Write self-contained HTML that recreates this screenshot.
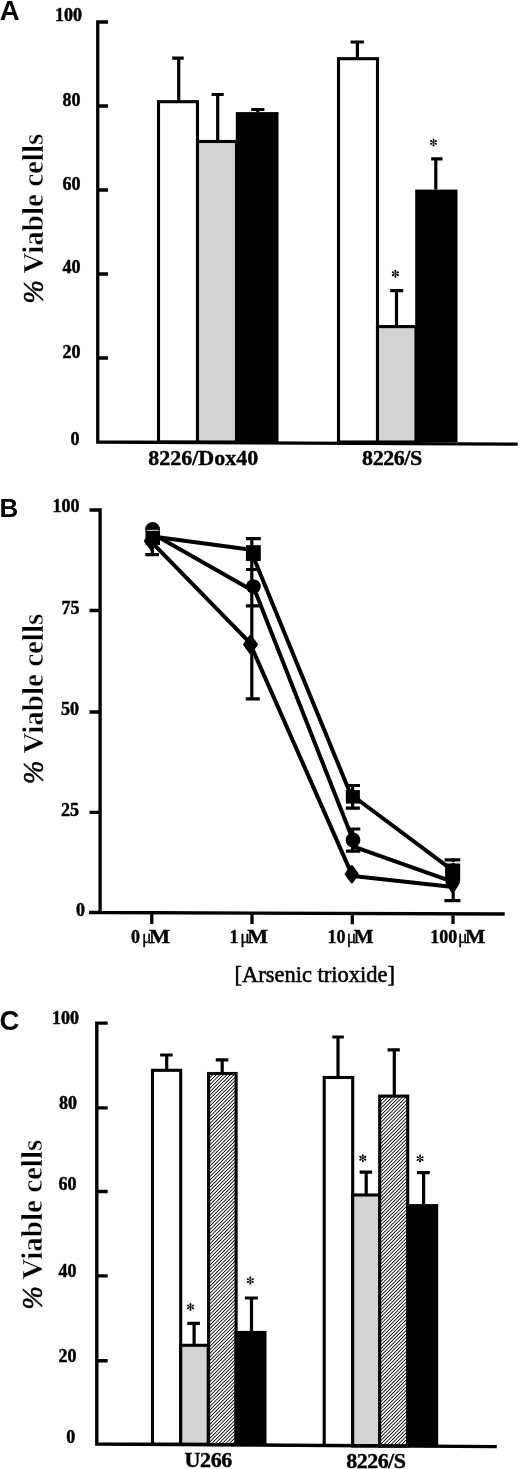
<!DOCTYPE html>
<html><head><meta charset="utf-8"><style>
html,body{margin:0;padding:0;background:#fff;}
svg{display:block;will-change:transform;filter:blur(0.45px);}
.s{font-family:"Liberation Serif",serif;font-weight:bold;fill:#000;}
.p{font-family:"Liberation Sans",sans-serif;font-weight:bold;fill:#000;font-size:26px;}
.t{font-size:18px;stroke:#000;stroke-width:0.45px;}
.xl{font-size:22px;stroke:#000;stroke-width:0.4px;}
.yl{font-size:29px;}
.yr{stroke:#fff;stroke-width:0.45px;}
.pc{font-weight:normal !important;font-style:italic;font-size:28px;stroke:#000;stroke-width:0.5px;}
</style></head><body>
<svg width="520" height="1469" viewBox="0 0 520 1469">
<defs>
<pattern id="h" patternUnits="userSpaceOnUse" width="2.5" height="10" patternTransform="rotate(45)">
<rect width="2.5" height="10" fill="#fff"/><rect width="0.85" height="10" fill="#000"/>
</pattern>
</defs>
<rect width="520" height="1469" fill="#fff"/>

<!-- ================= PANEL A ================= -->
<g id="A">
<text class="p" x="-0.2" y="19.5" style="font-size:27.5px">A</text>
<g class="s t" text-anchor="end">
<text x="82" y="21.3">100</text>
<text x="80.6" y="105.5">80</text>
<text x="80.6" y="189.6">60</text>
<text x="80.6" y="273.3">40</text>
<text x="80.6" y="358.3">20</text>
<text x="79.6" y="445.3">0</text>
</g>
<text class="s yl yr" transform="translate(42.6 273.6) rotate(-90)">Viable cells</text><text class="s pc" transform="translate(42.5 303.4) rotate(-90) scale(1 1.04)">%</text>
<!-- bars -->
<rect x="158.5" y="101.7" width="39" height="340.3" fill="#fff" stroke="#000" stroke-width="3.1"/>
<rect x="197.5" y="141.5" width="39" height="300.5" fill="#d3d3d3" stroke="#000" stroke-width="3.1"/>
<rect x="235.8" y="112.1" width="42.7" height="330" fill="#000"/>
<rect x="338.5" y="58.7" width="39" height="383.3" fill="#fff" stroke="#000" stroke-width="3.1"/>
<rect x="377.5" y="326.6" width="38.5" height="115.4" fill="#d3d3d3" stroke="#000" stroke-width="3.1"/>
<rect x="415.2" y="189.6" width="42.3" height="252.4" fill="#000"/>
<!-- error bars -->
<g stroke="#000" stroke-width="3.2" fill="none">
<path d="M178.7 101.7V58.1M172.2 58.1H183.7"/>
<path d="M217.7 141.5V94.5M211.6 94.5H223.7"/>
<path d="M257.8 112.1V109.5M251.2 109.5H264.4"/>
<path d="M357.4 58.7V42M350.6 42H363.9"/>
<path d="M396.5 326.6V290.7M390.2 290.7H403.2"/>
<path d="M435.8 189.6V158.8M431.2 158.8H442.5"/>
</g>
<!-- axes -->
<path d="M108 22H97.75V442L517.7 444.2M97.75 106H108M97.75 190H108M97.75 274H108M97.75 358H108" stroke="#000" stroke-width="3.3" fill="none"/>
<g class="s xl" text-anchor="middle">
<text x="203.2" y="464.5">8226/Dox40</text>
<text x="392.2" y="464.6" textLength="60.2" lengthAdjust="spacing">8226/S</text>
</g>
<g transform="translate(395.4 273.7)"><path d="M0 -2.9V2.9M-2.5 -1.45L2.5 1.45M-2.5 1.45L2.5 -1.45" stroke="#000" stroke-width="0.75" fill="none"/>
<g fill="#000"><ellipse cx="0" cy="-2.75" rx="0.95" ry="1.25"/><ellipse cx="0" cy="2.75" rx="0.95" ry="1.25"/>
<ellipse cx="-2.4" cy="-1.38" rx="1.25" ry="0.95" transform="rotate(30 -2.4 -1.38)"/><ellipse cx="2.4" cy="1.38" rx="1.25" ry="0.95" transform="rotate(30 2.4 1.38)"/>
<ellipse cx="-2.4" cy="1.38" rx="1.25" ry="0.95" transform="rotate(-30 -2.4 1.38)"/><ellipse cx="2.4" cy="-1.38" rx="1.25" ry="0.95" transform="rotate(-30 2.4 -1.38)"/></g></g>
<g transform="translate(433.5 142.4)"><path d="M0 -2.9V2.9M-2.5 -1.45L2.5 1.45M-2.5 1.45L2.5 -1.45" stroke="#000" stroke-width="0.75" fill="none"/>
<g fill="#000"><ellipse cx="0" cy="-2.75" rx="0.95" ry="1.25"/><ellipse cx="0" cy="2.75" rx="0.95" ry="1.25"/>
<ellipse cx="-2.4" cy="-1.38" rx="1.25" ry="0.95" transform="rotate(30 -2.4 -1.38)"/><ellipse cx="2.4" cy="1.38" rx="1.25" ry="0.95" transform="rotate(30 2.4 1.38)"/>
<ellipse cx="-2.4" cy="1.38" rx="1.25" ry="0.95" transform="rotate(-30 -2.4 1.38)"/><ellipse cx="2.4" cy="-1.38" rx="1.25" ry="0.95" transform="rotate(-30 2.4 -1.38)"/></g></g>
</g>

<!-- ================= PANEL B ================= -->
<g id="B">
<text class="p" x="-0.5" y="517.2">B</text>
<g class="s t" text-anchor="end">
<text x="79.5" y="512.4">100</text>
<text x="79.6" y="613.5">75</text>
<text x="78.9" y="714.8">50</text>
<text x="78.9" y="815.5">25</text>
<text x="85.1" y="915.7">0</text>
</g>
<text class="s yl yr" transform="translate(42.6 753.6) rotate(-90)">Viable cells</text><text class="s pc" transform="translate(42.5 783.9) rotate(-90) scale(1 1.04)">%</text>
<!-- axes -->
<path d="M89.5 510H100.1V912.5L504.7 914M89 912.5H100M89.5 610.5H100M89.5 712H100M89.5 812.3H100M151.8 912.5V923.9M252 912.5V923.9M352.3 912.5V924.3M453 912.5V924" stroke="#000" stroke-width="3.3" fill="none"/>
<!-- error bars -->
<g stroke="#000" stroke-width="3.2" fill="none">
<path d="M152.3 548V554.7M145.3 554.7H159"/>
<path d="M251.8 538.6V698.8M245.9 538.6H260.8M246 569.5H260M245.9 605.8H259.5M245.8 698.8H259.8"/>
<path d="M352.6 785.5V808.1M352.6 829V851.2M346 785.5H360M345.8 808.1H359.9M347 829H360.3M346 851.2H360.3"/>
<path d="M453.2 859.9V900.6M444.6 859.9H460.3M444.4 900.6H460.4"/>
</g>
<!-- series lines -->
<g stroke="#000" stroke-width="4" fill="none">
<path d="M152.6 536.4L253 550.1M251.8 553.1L351.5 796.5M353 796L453 870.6"/>
<path d="M152.6 533.8L253.3 591M253.3 586.6L353 840M353 846.4L453 881.8"/>
<path d="M152.6 543.1L250.5 643.3M250.5 644.5L351.8 874.4M353 876.1L453 887.1"/>
</g>
<!-- markers -->
<g fill="#000">
<circle cx="152.6" cy="529.4" r="7.4"/>
<rect x="145.5" y="531" width="14.5" height="14"/>
<path d="M151.5 533L157.5 541L151.5 549.1L145.5 541Z" stroke="#000" stroke-width="3" stroke-linejoin="round"/>
<rect x="245.9" y="545.2" width="14.9" height="15.8"/>
<circle cx="253.4" cy="586.6" r="7.4"/>
<path d="M250.5 636.5L256.4 644.5L250.5 652.5L244.7 644.5Z" stroke="#000" stroke-width="3" stroke-linejoin="round"/>
<rect x="345.8" y="790.1" width="14.1" height="13.5"/>
<circle cx="353" cy="840" r="7.4"/>
<path d="M351.8 866.5L357.2 874.2L351.9 881.8L346.2 874.2Z" stroke="#000" stroke-width="3" stroke-linejoin="round"/>
<rect x="445.1" y="863.5" width="15.1" height="14"/>
<circle cx="452.7" cy="879.5" r="7.5"/>
<path d="M452.7 873.5L458.1 883L452.7 892L447.1 883Z" stroke="#000" stroke-width="3" stroke-linejoin="round"/>
</g>
<g stroke="#ddd" stroke-width="1" fill="none">
<path d="M146.7 530.3H158.5M445.5 862.4H460"/>
</g>
<g class="s" font-size="18" style="stroke:#000;stroke-width:0.35px">
<text x="131.0" y="942.5">0</text>
<text x="141.9" y="942.5" style="font-weight:normal;stroke-width:0.3px">&#956;</text>
<text transform="translate(148.9 942.5) scale(1.245 1)">M</text>
<text x="229.4" y="942.5">1</text>
<text x="240.3" y="942.5" style="font-weight:normal;stroke-width:0.3px">&#956;</text>
<text transform="translate(247.3 942.5) scale(1.221 1)">M</text>
<text x="327.6" y="942.5">10</text>
<text x="346.7" y="942.5" style="font-weight:normal;stroke-width:0.3px">&#956;</text>
<text transform="translate(353.7 942.5) scale(1.166 1)">M</text>
<text x="430.2" y="942.5">100</text>
<text x="457.9" y="942.5" style="font-weight:normal;stroke-width:0.3px">&#956;</text>
<text transform="translate(464.9 942.5) scale(1.196 1)">M</text>
</g>
<text class="s" font-size="22.5" style="font-weight:normal;stroke:#000;stroke-width:0.55px" text-anchor="middle" x="314.7" y="981.8">[Arsenic trioxide]</text>
</g>

<!-- ================= PANEL C ================= -->
<g id="C">
<text class="p" x="-0.6" y="1030.3" style="font-size:27.5px">C</text>
<g class="s t" text-anchor="end">
<text x="79" y="1023.8">100</text>
<text x="76.9" y="1108.5">80</text>
<text x="76.6" y="1190">60</text>
<text x="76.6" y="1276.9">40</text>
<text x="76.6" y="1361.9">20</text>
<text x="75.2" y="1443.1">0</text>
</g>
<text class="s yl yr" transform="translate(41.9 1279.6) rotate(-90)">Viable cells</text><text class="s pc" transform="translate(41.7 1309.5) rotate(-90) scale(1 1.04)">%</text>
<!-- bars -->
<rect x="152.5" y="1070.3" width="28.2" height="374" fill="#fff" stroke="#000" stroke-width="3.1"/>
<rect x="180.7" y="1345.3" width="27.5" height="99" fill="#d3d3d3" stroke="#000" stroke-width="3.1"/>
<rect x="208.6" y="1073.5" width="27.5" height="371" fill="url(#h)" stroke="#000" stroke-width="3.1"/>
<rect x="234.5" y="1330.9" width="32" height="114" fill="#000"/>
<rect x="324.2" y="1077.5" width="28.5" height="368" fill="#fff" stroke="#000" stroke-width="3.1"/>
<rect x="352.7" y="1195" width="27.2" height="251" fill="#d3d3d3" stroke="#000" stroke-width="3.1"/>
<rect x="379.7" y="1096.1" width="28" height="350" fill="url(#h)" stroke="#000" stroke-width="3.1"/>
<rect x="406.5" y="1204.1" width="31.7" height="242" fill="#000"/>
<!-- error bars -->
<g stroke="#000" stroke-width="3.2" fill="none">
<path d="M166.7 1070.3V1055M160.1 1055H172.7"/>
<path d="M194.1 1345.3V1323.3M187.3 1323.3H199.9"/>
<path d="M222.2 1073.5V1059.8M215.8 1059.8H228.4"/>
<path d="M251.5 1330.9V1298M244.9 1298H257.9"/>
<path d="M338 1077.5V1037M332.3 1037H343.8"/>
<path d="M366.2 1195V1172.2M359.6 1172.2H372.1"/>
<path d="M394.3 1096.1V1049.8M387.6 1049.8H399.8"/>
<path d="M423.6 1204.1V1172.6M416.9 1172.6H429.8"/>
</g>
<!-- axes -->
<path d="M107.7 1023.1H96.8V1444L496.8 1446.6M96.8 1107.9H107.7M96.8 1191.5H107.7M96.8 1275.9H107.7M96.8 1360.7H107.7" stroke="#000" stroke-width="3.4" fill="none"/>
<g transform="translate(190.5 1306.9)"><path d="M0 -2.9V2.9M-2.5 -1.45L2.5 1.45M-2.5 1.45L2.5 -1.45" stroke="#000" stroke-width="0.75" fill="none"/>
<g fill="#000"><ellipse cx="0" cy="-2.75" rx="0.95" ry="1.25"/><ellipse cx="0" cy="2.75" rx="0.95" ry="1.25"/>
<ellipse cx="-2.4" cy="-1.38" rx="1.25" ry="0.95" transform="rotate(30 -2.4 -1.38)"/><ellipse cx="2.4" cy="1.38" rx="1.25" ry="0.95" transform="rotate(30 2.4 1.38)"/>
<ellipse cx="-2.4" cy="1.38" rx="1.25" ry="0.95" transform="rotate(-30 -2.4 1.38)"/><ellipse cx="2.4" cy="-1.38" rx="1.25" ry="0.95" transform="rotate(-30 2.4 -1.38)"/></g></g>
<g transform="translate(250.3 1280.6)"><path d="M0 -2.9V2.9M-2.5 -1.45L2.5 1.45M-2.5 1.45L2.5 -1.45" stroke="#000" stroke-width="0.75" fill="none"/>
<g fill="#000"><ellipse cx="0" cy="-2.75" rx="0.95" ry="1.25"/><ellipse cx="0" cy="2.75" rx="0.95" ry="1.25"/>
<ellipse cx="-2.4" cy="-1.38" rx="1.25" ry="0.95" transform="rotate(30 -2.4 -1.38)"/><ellipse cx="2.4" cy="1.38" rx="1.25" ry="0.95" transform="rotate(30 2.4 1.38)"/>
<ellipse cx="-2.4" cy="1.38" rx="1.25" ry="0.95" transform="rotate(-30 -2.4 1.38)"/><ellipse cx="2.4" cy="-1.38" rx="1.25" ry="0.95" transform="rotate(-30 2.4 -1.38)"/></g></g>
<g transform="translate(362.8 1158.2)"><path d="M0 -2.9V2.9M-2.5 -1.45L2.5 1.45M-2.5 1.45L2.5 -1.45" stroke="#000" stroke-width="0.75" fill="none"/>
<g fill="#000"><ellipse cx="0" cy="-2.75" rx="0.95" ry="1.25"/><ellipse cx="0" cy="2.75" rx="0.95" ry="1.25"/>
<ellipse cx="-2.4" cy="-1.38" rx="1.25" ry="0.95" transform="rotate(30 -2.4 -1.38)"/><ellipse cx="2.4" cy="1.38" rx="1.25" ry="0.95" transform="rotate(30 2.4 1.38)"/>
<ellipse cx="-2.4" cy="1.38" rx="1.25" ry="0.95" transform="rotate(-30 -2.4 1.38)"/><ellipse cx="2.4" cy="-1.38" rx="1.25" ry="0.95" transform="rotate(-30 2.4 -1.38)"/></g></g>
<g transform="translate(420.1 1158.6)"><path d="M0 -2.9V2.9M-2.5 -1.45L2.5 1.45M-2.5 1.45L2.5 -1.45" stroke="#000" stroke-width="0.75" fill="none"/>
<g fill="#000"><ellipse cx="0" cy="-2.75" rx="0.95" ry="1.25"/><ellipse cx="0" cy="2.75" rx="0.95" ry="1.25"/>
<ellipse cx="-2.4" cy="-1.38" rx="1.25" ry="0.95" transform="rotate(30 -2.4 -1.38)"/><ellipse cx="2.4" cy="1.38" rx="1.25" ry="0.95" transform="rotate(30 2.4 1.38)"/>
<ellipse cx="-2.4" cy="1.38" rx="1.25" ry="0.95" transform="rotate(-30 -2.4 1.38)"/><ellipse cx="2.4" cy="-1.38" rx="1.25" ry="0.95" transform="rotate(-30 2.4 -1.38)"/></g></g>
<g class="s xl">
<text x="184.6" y="1466.9" textLength="47.6" lengthAdjust="spacing">U266</text>
<text x="346.3" y="1467.8" textLength="59.6" lengthAdjust="spacing">8226/S</text>
</g>
</g>

</svg>
</body></html>
